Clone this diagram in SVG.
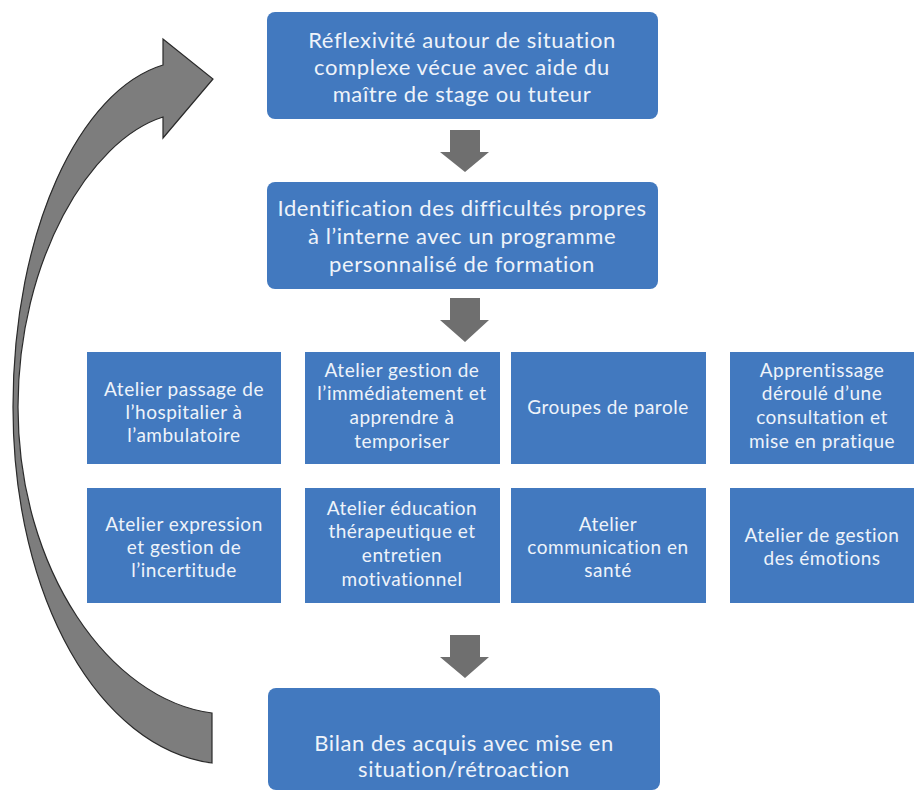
<svg xmlns="http://www.w3.org/2000/svg" width="915" height="792" viewBox="0 0 915 792">
<defs>
<style>
.box{fill:#4279bf;}
.big{fill:#4279bf;}
.t{font-family:Lato,"Open Sans","Noto Sans",sans-serif;fill:#eef3fa;text-anchor:middle;}
.tb{font-size:22px;letter-spacing:0.6px;}
.ts{font-size:19px;letter-spacing:0.5px;}
.down{fill:#6f6f6f;}
.loop{fill:#7d7d7d;stroke:#2a2a2a;stroke-width:1.2;}
</style>
</defs>
<rect width="915" height="792" fill="#ffffff"/>
<g id="connectors">
<path class="loop" d="M212,763 C100,748 13,600 13,407 C13,230 80,90 163,65 L163,39 L213,79 L163,138 L163,117 C90,140 18,260 18,407 C18,570 110,700 212,713 Z"/>
<path class="down" d="M450,130 H480 V152 H489 L465,172 L440,152 H450 Z"/>
<path class="down" d="M450,298 H480 V320 H489 L465,342 L440,320 H450 Z"/>
<path class="down" d="M450,635 H480 V657 H489 L465,678 L440,657 H450 Z"/>
</g>
<g id="n1">
<rect class="big" x="267" y="12" width="391" height="107" rx="8"/>
<text class="t tb" x="462" y="48">Réflexivité autour de situation</text>
<text class="t tb" x="462" y="75">complexe vécue avec aide du</text>
<text class="t tb" x="462" y="102">maître de stage ou tuteur</text>
</g>
<g id="n2">
<rect class="big" x="267" y="182" width="391" height="107" rx="8"/>
<text class="t tb" x="462" y="216">Identification des difficultés propres</text>
<text class="t tb" x="462" y="244">à l’interne avec un programme</text>
<text class="t tb" x="462" y="272">personnalisé de formation</text>
</g>
<g id="g1">
<rect class="box" x="87" y="352" width="194" height="112"/>
<text class="t ts" x="184" y="396">Atelier passage de</text>
<text class="t ts" x="184" y="419">l’hospitalier à</text>
<text class="t ts" x="184" y="442">l’ambulatoire</text>
</g>
<g id="g2">
<rect class="box" x="305" y="352" width="195" height="112"/>
<text class="t ts" x="402" y="377">Atelier gestion de</text>
<text class="t ts" x="402" y="400">l’immédiatement et</text>
<text class="t ts" x="402" y="424">apprendre à</text>
<text class="t ts" x="402" y="448">temporiser</text>
</g>
<g id="g3">
<rect class="box" x="511" y="352" width="195" height="112"/>
<text class="t ts" x="608" y="414">Groupes de parole</text>
</g>
<g id="g4">
<rect class="box" x="730" y="352" width="184" height="112"/>
<text class="t ts" x="822" y="377">Apprentissage</text>
<text class="t ts" x="822" y="400">déroulé d’une</text>
<text class="t ts" x="822" y="424">consultation et</text>
<text class="t ts" x="822" y="448">mise en pratique</text>
</g>
<g id="g5">
<rect class="box" x="87" y="488" width="194" height="115"/>
<text class="t ts" x="184" y="531">Atelier expression</text>
<text class="t ts" x="184" y="554">et gestion de</text>
<text class="t ts" x="184" y="577">l’incertitude</text>
</g>
<g id="g6">
<rect class="box" x="305" y="488" width="195" height="115"/>
<text class="t ts" x="402" y="515">Atelier éducation</text>
<text class="t ts" x="402" y="538">thérapeutique et</text>
<text class="t ts" x="402" y="562">entretien</text>
<text class="t ts" x="402" y="586">motivationnel</text>
</g>
<g id="g7">
<rect class="box" x="511" y="488" width="195" height="115"/>
<text class="t ts" x="608" y="531">Atelier</text>
<text class="t ts" x="608" y="554">communication en</text>
<text class="t ts" x="608" y="577">santé</text>
</g>
<g id="g8">
<rect class="box" x="730" y="488" width="184" height="115"/>
<text class="t ts" x="822" y="542">Atelier de gestion</text>
<text class="t ts" x="822" y="565">des émotions</text>
</g>
<g id="n3">
<rect class="big" x="268" y="688" width="392" height="102" rx="8"/>
<text class="t tb" x="464" y="751">Bilan des acquis avec mise en</text>
<text class="t tb" x="464" y="777">situation/rétroaction</text>
</g>
</svg>
